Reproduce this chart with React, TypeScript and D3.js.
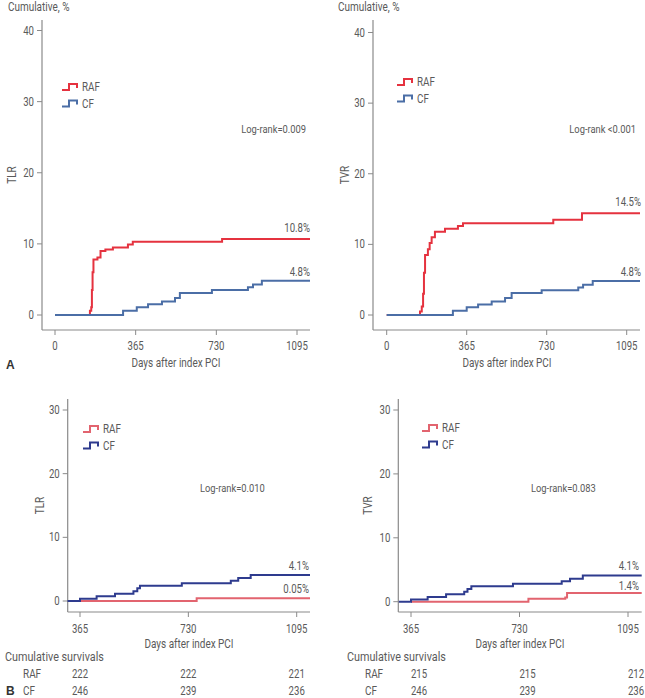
import React from 'react';
import * as d3 from 'd3';

type Pt = [number, number];

// Panel A: whole follow-up, days 0-1095
const rafTlrAll: Pt[] = [[0, 0], [158, 0.6], [164, 1.1], [167, 3.5], [170, 6.0], [174, 7.8], [192, 8.1], [206, 9.0], [228, 9.2], [262, 9.5], [330, 9.9], [352, 10.3], [756, 10.7]];
const cfTlrAll: Pt[] = [[0, 0], [308, 0.6], [370, 1.1], [421, 1.5], [484, 1.9], [543, 2.4], [565, 3.1], [710, 3.5], [873, 3.9], [896, 4.3], [936, 4.8]];
const rafTvrAll: Pt[] = [[0, 0], [152, 0.5], [160, 1.2], [166, 3.0], [170, 6.0], [175, 8.5], [188, 9.3], [196, 10.2], [205, 11.0], [220, 11.8], [266, 12.2], [325, 12.6], [348, 13.0], [760, 13.5], [891, 14.4]];
const cfTvrAll: Pt[] = [[0, 0], [302, 0.6], [365, 1.1], [417, 1.5], [479, 1.9], [540, 2.4], [570, 3.1], [707, 3.5], [874, 3.9], [896, 4.3], [940, 4.8]];

// Panel B: landmark from day 365
const rafTlrLate: Pt[] = [[365, 0], [758, 0.45]];
const cfTlrLate: Pt[] = [[323, 0], [365, 0.35], [421, 0.75], [483, 1.15], [545, 1.55], [558, 2.0], [567, 2.4], [708, 2.8], [873, 3.2], [898, 3.6], [940, 4.1]];
const rafTvrLate: Pt[] = [[365, 0], [760, 0.45], [884, 0.65], [890, 1.35]];
const cfTvrLate: Pt[] = [[324, 0], [365, 0.35], [421, 0.75], [483, 1.15], [544, 1.55], [555, 2.0], [568, 2.4], [708, 2.8], [872, 3.2], [900, 3.6], [943, 4.1]];

const ticksAllDays = [0, 365, 730, 1095];
const ticksLateDays = [365, 730, 1095];
const ticksPctA = [0, 10, 20, 30, 40];
const ticksPctB = [0, 10, 20, 30];

const survTlrRaf = [222, 222, 221];
const survTlrCf = [246, 239, 236];
const survTvrRaf = [215, 215, 212];
const survTvrCf = [246, 239, 236];

const FONT = "Roboto, 'Noto Sans', sans-serif";
const TXT = '#5a5a5a';
const AX = '#8a8a8a';

// condensed-looking text: Roboto squeezed horizontally
const Txt = ({ x, y, size = 11, anchor = 'start', rotate = 0, sx = 0.8, children }: any) => (
  <text
    transform={`translate(${x},${y}) rotate(${rotate}) scale(${sx},1)`}
    textAnchor={anchor}
    fontSize={size}
  >
    {children}
  </text>
);

interface Series { name: string; pts: Pt[]; color: string }
interface PanelProps {
  series: Series[];
  yLabel: string;
  xDomain: [number, number];
  xRange: [number, number];
  yDomain: [number, number];
  yRange: [number, number];
  axisX: number; axisRight: number; axisTop: number; axisBottom: number;
  xTicks: number[]; yTicks: number[];
  legend: [number, number];
  logRank: string; logRankPos: [number, number]; logRankAnchor: string;
  endLabels: { text: string; y: number }[];
  endLabelX: number;
  yLabelX: number;
  cumLabel?: [number, number];
  xTitleX: number; xTitleY: number; tickLabelY: number;
  table?: { raf: number[]; cf: number[]; x: number; dx: number };
}

const Panel = (p: PanelProps) => {
  const x = d3.scaleLinear().domain(p.xDomain).range(p.xRange);
  const y = d3.scaleLinear().domain(p.yDomain).range(p.yRange);
  const endDay = x.invert(p.axisRight);
  const line = d3.line<Pt>().x((d) => x(d[0])).y((d) => y(d[1])).curve(d3.curveStepAfter);
  const yMid = (p.axisTop + p.axisBottom) / 2;

  return (
    <g fontFamily={FONT} fill={TXT}>
      {p.cumLabel && <Txt x={p.cumLabel[0]} y={p.cumLabel[1]} size={12} sx={0.83}>Cumulative, %</Txt>}
      <line x1={p.axisX} x2={p.axisX} y1={p.axisTop} y2={p.axisBottom} stroke={AX} strokeWidth={1.2} />
      <line x1={p.axisX} x2={p.axisRight} y1={p.axisBottom} y2={p.axisBottom} stroke={AX} strokeWidth={1.2} />
      {p.yTicks.map((t) => (
        <g key={'y' + t}>
          <line x1={p.axisX - 5} x2={p.axisX} y1={y(t)} y2={y(t)} stroke={AX} />
          <Txt x={p.axisX - 8} y={y(t) + 4} anchor="end" size={12}>{t}</Txt>
        </g>
      ))}
      {p.xTicks.map((t) => (
        <g key={'x' + t}>
          <line x1={x(t)} x2={x(t)} y1={p.axisBottom} y2={p.axisBottom + 5} stroke={AX} />
          <Txt x={x(t)} y={p.tickLabelY} anchor="middle" size={12}>{t}</Txt>
        </g>
      ))}
      <Txt x={p.xTitleX} y={p.xTitleY} anchor="middle" size={12} sx={0.83}>Days after index PCI</Txt>
      <Txt x={p.yLabelX} y={yMid} anchor="middle" rotate={-90} size={12} sx={0.83}>{p.yLabel}</Txt>
      {p.series.map((s) => {
        const last = s.pts[s.pts.length - 1];
        const pts: Pt[] = [...s.pts, [endDay, last[1]]];
        return <path key={s.name} d={line(pts) || ''} fill="none" stroke={s.color} strokeWidth={2} />;
      })}
      {p.series.map((s, i) => {
        const lx = p.legend[0];
        const ly = p.legend[1] + i * 16.5;
        return (
          <g key={'lg' + s.name}>
            <path d={`M${lx},${ly + 3}H${lx + 7}V${ly - 3}H${lx + 15}V${ly + 1}`} fill="none" stroke={s.color} strokeWidth={2} />
            <Txt x={lx + 20} y={ly + 4} size={12} sx={0.82}>{s.name}</Txt>
          </g>
        );
      })}
      <Txt x={p.logRankPos[0]} y={p.logRankPos[1]} anchor={p.logRankAnchor} size={11.7}>{p.logRank}</Txt>
      {p.endLabels.map((l) => (
        <Txt key={l.text} x={p.endLabelX} y={l.y} anchor="end" size={12}>{l.text}</Txt>
      ))}
      {p.table && (
        <g>
          <Txt x={p.table.x} y={661} size={13} sx={0.83}>Cumulative survivals</Txt>
          <Txt x={p.table.x + 18} y={678} size={12} sx={0.83}>RAF</Txt>
          <Txt x={p.table.x + 18} y={695} size={12} sx={0.83}>CF</Txt>
          {ticksLateDays.map((t, i) => (
            <g key={'tb' + t}>
              <Txt x={x(t) + p.table!.dx} y={678} anchor="middle" size={12}>{p.table!.raf[i]}</Txt>
              <Txt x={x(t) + p.table!.dx} y={695} anchor="middle" size={12}>{p.table!.cf[i]}</Txt>
            </g>
          ))}
        </g>
      )}
    </g>
  );
};

const RED_A = '#e5323f';
const BLUE_A = '#4b6ea6';
const RED_B = '#e2646f';
const BLUE_B = '#2e3b8e';

export default function App() {
  return (
    <svg width={645} height={698} style={{ position: 'absolute', left: 0, top: 0, background: '#fff' }}>
      <Panel
        series={[{ name: 'RAF', pts: rafTlrAll, color: RED_A }, { name: 'CF', pts: cfTlrAll, color: BLUE_A }]}
        yLabel="TLR" yLabelX={16}
        xDomain={[0, 1095]} xRange={[55, 297]} yDomain={[0, 40]} yRange={[315, 30.5]}
        axisX={42} axisRight={310} axisTop={20} axisBottom={330}
        xTicks={ticksAllDays} yTicks={ticksPctA}
        legend={[62, 87]}
        logRank="Log-rank=0.009" logRankPos={[306, 133]} logRankAnchor="end"
        endLabels={[{ text: '10.8%', y: 232 }, { text: '4.8%', y: 276 }]} endLabelX={310}
        cumLabel={[8, 11]} xTitleX={176} xTitleY={367} tickLabelY={350}
      />
      <Panel
        series={[{ name: 'RAF', pts: rafTvrAll, color: RED_A }, { name: 'CF', pts: cfTvrAll, color: BLUE_A }]}
        yLabel="TVR" yLabelX={349}
        xDomain={[0, 1095]} xRange={[386.7, 626.7]} yDomain={[0, 40]} yRange={[315, 32.5]}
        axisX={373} axisRight={640} axisTop={20} axisBottom={330}
        xTicks={ticksAllDays} yTicks={ticksPctA}
        legend={[397, 82]}
        logRank="Log-rank <0.001" logRankPos={[636, 133]} logRankAnchor="end"
        endLabels={[{ text: '14.5%', y: 206 }, { text: '4.8%', y: 276 }]} endLabelX={641}
        cumLabel={[338, 11]} xTitleX={507} xTitleY={367} tickLabelY={350}
      />
      <Panel
        series={[{ name: 'RAF', pts: rafTlrLate, color: RED_B }, { name: 'CF', pts: cfTlrLate, color: BLUE_B }]}
        yLabel="TLR" yLabelX={44}
        xDomain={[365, 1095]} xRange={[80, 296.7]} yDomain={[0, 30]} yRange={[601, 410]}
        axisX={67.7} axisRight={310} axisTop={399} axisBottom={612}
        xTicks={ticksLateDays} yTicks={ticksPctB}
        legend={[83, 429]}
        logRank="Log-rank=0.010" logRankPos={[200, 492]} logRankAnchor="start"
        endLabels={[{ text: '4.1%', y: 570 }, { text: '0.05%', y: 593 }]} endLabelX={309}
        xTitleX={189} xTitleY={648} tickLabelY={633}
        table={{ raf: survTlrRaf, cf: survTlrCf, x: 5, dx: 0 }}
      />
      <Panel
        series={[{ name: 'RAF', pts: rafTvrLate, color: RED_B }, { name: 'CF', pts: cfTvrLate, color: BLUE_B }]}
        yLabel="TVR" yLabelX={372}
        xDomain={[365, 1095]} xRange={[411, 628]} yDomain={[0, 30]} yRange={[601.7, 410]}
        axisX={398.3} axisRight={641.7} axisTop={399} axisBottom={612}
        xTicks={ticksLateDays} yTicks={ticksPctB}
        legend={[422, 428]}
        logRank="Log-rank=0.083" logRankPos={[531, 492]} logRankAnchor="start"
        endLabels={[{ text: '4.1%', y: 570 }, { text: '1.4%', y: 590 }]} endLabelX={639}
        xTitleX={520} xTitleY={648} tickLabelY={633}
        table={{ raf: survTvrRaf, cf: survTvrCf, x: 347, dx: 8 }}
      />
      <text x={6} y={369} fontFamily="'Liberation Sans', Arial, sans-serif" fontWeight="bold" fontSize={12} fill="#333">A</text>
      <text x={6} y={695} fontFamily="'Liberation Sans', Arial, sans-serif" fontWeight="bold" fontSize={12} fill="#333">B</text>
    </svg>
  );
}
